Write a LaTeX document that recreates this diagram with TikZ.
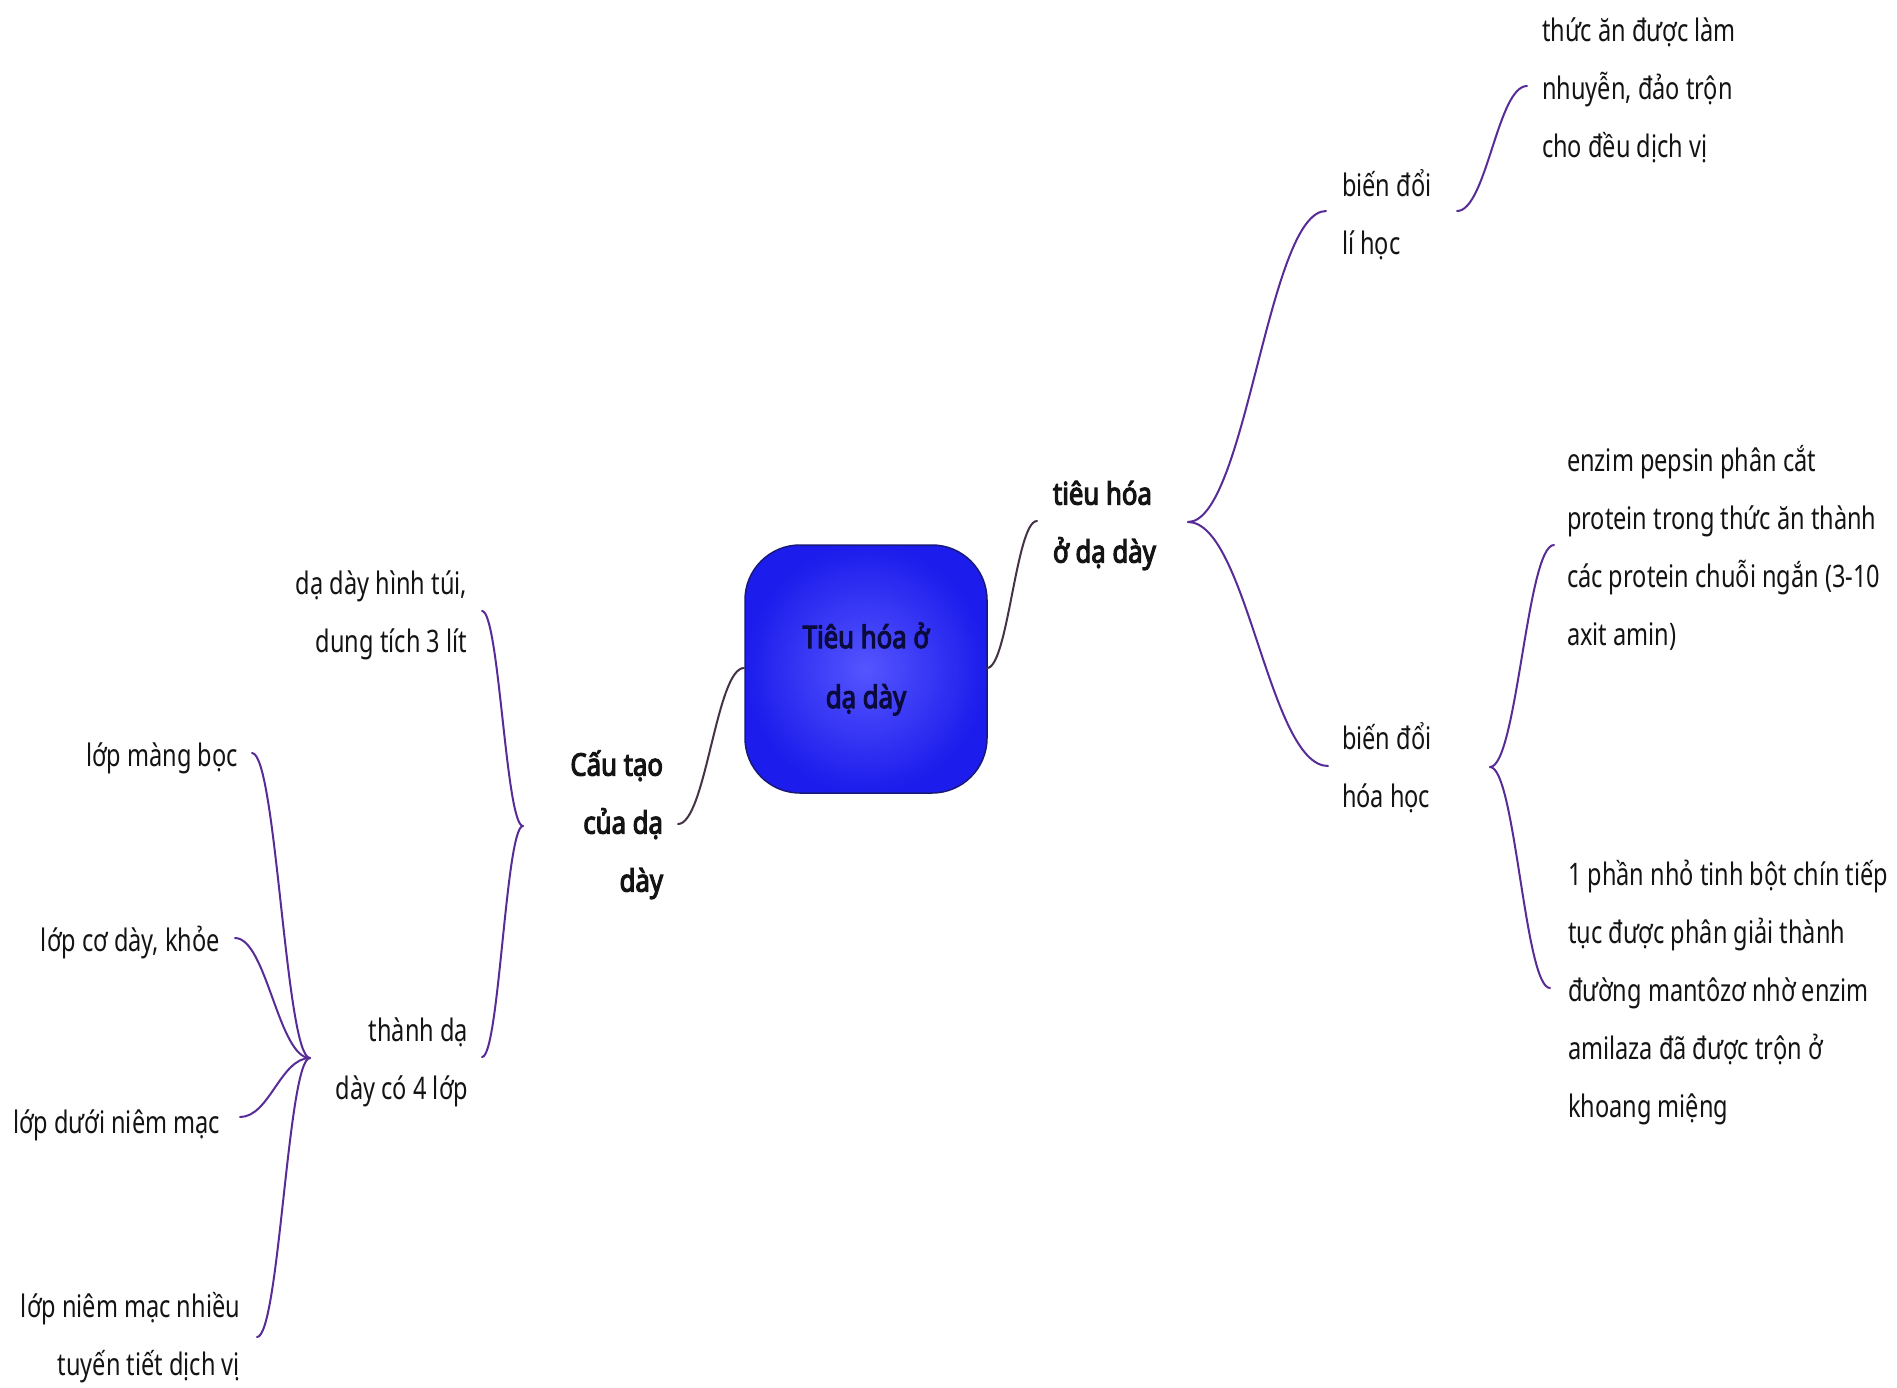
\documentclass[tikz,border=0pt]{standalone}
\usepackage{fontspec}
\setmainfont{Noto Sans}[FakeStretch=0.76]
\newfontfamily\heavyfam{Noto Sans}[FakeStretch=0.83, FakeBold=3.5]
\usetikzlibrary{calc}
\definecolor{linkc}{RGB}{88,44,150}
\definecolor{hublink}{RGB}{70,50,70}
\definecolor{txtc}{RGB}{20,20,20}
\definecolor{boxin}{RGB}{85,85,255}
\definecolor{boxout}{RGB}{28,28,236}
\definecolor{boxline}{RGB}{25,25,120}
\tikzset{
  txt/.style={inner sep=0pt, outer sep=0pt, text=txtc, font=\fontsize{31}{58}\selectfont},
  btxt/.style={txt, font=\heavyfam\fontsize{31}{58}\selectfont},
  lft/.style={align=left, anchor=north west},
  rgt/.style={align=right, anchor=north east},
  link/.style={draw=linkc, line width=2pt, line cap=round},
  curv/.style={to path={let \p1=(\tikztostart), \p2=(\tikztotarget) in
      .. controls ($(\p1)!0.42!(\x2,\y1)$) and ($(\p2)!0.42!(\x1,\y2)$) .. (\tikztotarget)}},
}
\begin{document}
\begin{tikzpicture}[x=1pt, y=-1pt]
\useasboundingbox (0,0) rectangle (1897,1387);
\fill[white] (0,0) rectangle (1897,1387);

% central node
\node[btxt, font=\heavyfam\fontsize{31}{60}\selectfont, text={rgb,255:red,10;green,10;blue,60},
      align=center, draw=boxline, line width=1.5pt, rounded corners=55pt,
      inner color=boxin, outer color=boxout,
      minimum width=242pt, minimum height=248pt] (root) at (866,669)
      {Tiêu hóa ở\\dạ dày};

% main branches
\node[btxt, lft] (tieuhoa) at (1053,464) {\strut tiêu hóa\\ở dạ dày};
\node[btxt, rgt] (cautao) at (663,735) {\strut Cấu tạo\\của dạ\\dày};

% right subtree
\node[txt, lft] (lihoc) at (1342,156) {\strut biến đổi\\lí học};
\node[txt, lft] (hoahoc) at (1342,709) {\strut biến đổi\\hóa học};
\node[txt, lft] (thucan) at (1542,1) {\strut thức ăn được làm\\nhuyễn, đảo trộn\\cho đều dịch vị};
\node[txt, lft] (enzim) at (1567,431) {\strut enzim pepsin phân cắt\\protein trong thức ăn thành\\các protein chuỗi ngắn (3-10\\axit amin)};
\node[txt, lft] (motphan) at (1568,845) {\strut 1 phần nhỏ tinh bột chín tiếp\\tục được phân giải thành\\đường mantôzơ nhờ enzim\\amilaza đã được trộn ở\\khoang miệng};

% left subtree
\node[txt, rgt] (daday) at (467,554) {\strut dạ dày hình túi,\\dung tích 3 lít};
\node[txt, rgt] (thanhda) at (468,1001) {\strut thành dạ\\dày có 4 lớp};
\node[txt, rgt] (mangboc) at (238,726) {\strut lớp màng bọc};
\node[txt, rgt] (coday) at (220,911) {\strut lớp cơ dày, khỏe};
\node[txt, rgt] (duoi) at (220,1093) {\strut lớp dưới niêm mạc};
\node[txt, rgt] (niemmac) at (240,1277) {\strut lớp niêm mạc nhiều\\tuyến tiết dịch vị};

% connector points
\coordinate (rootR) at (987,668);
\coordinate (rootL) at (744,668);
\coordinate (tieuhoaIn) at (1037,521);
\coordinate (cautaoIn) at (678,824);
\coordinate (tieuhoaHub) at (1188,522);
\coordinate (lihocIn) at (1326,211);
\coordinate (hoahocIn) at (1328,766);
\coordinate (lihocHub) at (1457,211);
\coordinate (thucanIn) at (1527,86);
\coordinate (hoahocHub) at (1490,767);
\coordinate (enzimIn) at (1554,545);
\coordinate (motphanIn) at (1550,988);
\coordinate (cautaoHub) at (523,826);
\coordinate (dadayIn) at (482,611);
\coordinate (thanhdaIn) at (482,1057);
\coordinate (thanhdaHub) at (310,1058);
\coordinate (mangbocIn) at (252,753);
\coordinate (codayIn) at (235,938);
\coordinate (duoiIn) at (240,1117);
\coordinate (niemmacIn) at (257,1337);

\draw[link, draw=hublink] (rootR) to[curv] (tieuhoaIn);
\draw[link, draw=hublink] (rootL) to[curv] (cautaoIn);
\draw[link] (tieuhoaHub) to[curv] (lihocIn);
\draw[link] (tieuhoaHub) to[curv] (hoahocIn);
\draw[link] (lihocHub) to[curv] (thucanIn);
\draw[link] (hoahocHub) to[curv] (enzimIn);
\draw[link] (hoahocHub) to[curv] (motphanIn);
\draw[link] (cautaoHub) to[curv] (dadayIn);
\draw[link] (cautaoHub) to[curv] (thanhdaIn);
\draw[link] (thanhdaHub) to[curv] (mangbocIn);
\draw[link] (thanhdaHub) to[curv] (codayIn);
\draw[link] (thanhdaHub) to[curv] (duoiIn);
\draw[link] (thanhdaHub) to[curv] (niemmacIn);
\end{tikzpicture}
\end{document}
